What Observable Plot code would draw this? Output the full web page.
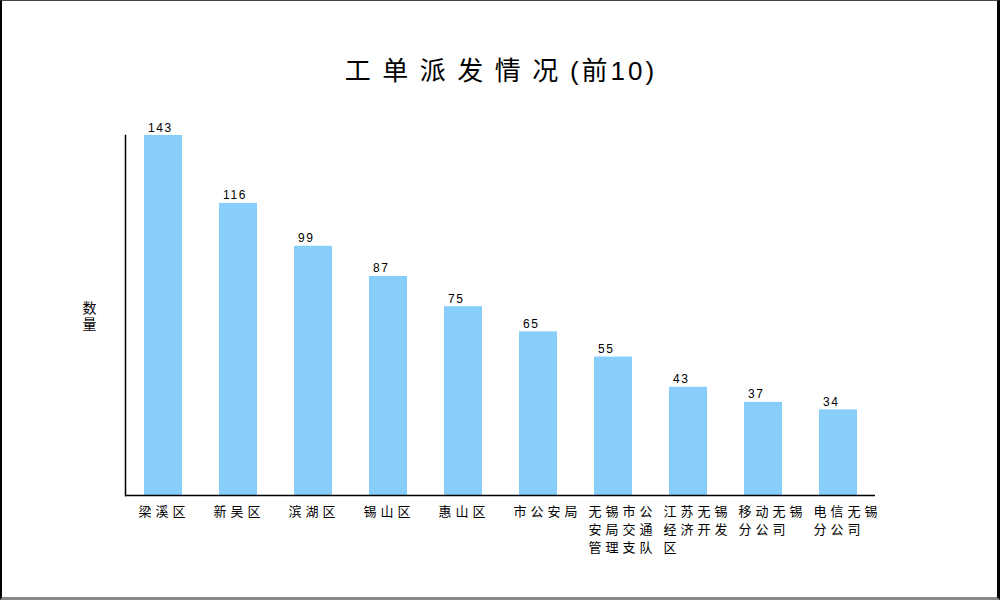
<!DOCTYPE html>
<html>
<head>
<meta charset="utf-8">
<script src="https://cdn.jsdelivr.net/npm/d3@7"></script>
<script src="https://cdn.jsdelivr.net/npm/@observablehq/plot@0.6"></script>
<style>
  html, body { margin: 0; padding: 0; background: #fff; }
  #wrap { position: relative; width: 1000px; height: 600px; overflow: hidden; background: #fff;
          font-family: "Liberation Sans", "Noto Sans CJK SC", sans-serif; }
  #border { position: absolute; left: 0; top: 0; width: 1000px; height: 600px; box-sizing: border-box;
            border-left: 2px solid #000; border-top: 1px solid #444; border-right: 3px solid #000;
            border-bottom: 3px solid #888; pointer-events: none; }
  #title { position: absolute; left: 1px; top: 55px; width: 1000px; text-align: center; color: #000;
           font-size: 26px; line-height: 32px; white-space: nowrap; }
  #title .a { letter-spacing: 11.5px; }
  #title .b { letter-spacing: 3px; }
  #chart { position: absolute; left: 0; top: 100px; }
</style>
</head>
<body>
<div id="wrap">
  <div id="title"><span class="a">工单派发情况</span><span class="b">(前10)</span></div>
  <div id="chart"></div>
  <div id="border"></div>
</div>
<script>
const categories = ["梁溪区", "新吴区", "滨湖区", "锡山区", "惠山区", "市公安局", "无锡市公安局交通管理支队", "江苏无锡经济开发区", "移动无锡分公司", "电信无锡分公司"];
const counts = [143, 116, 99, 87, 75, 65, 55, 43, 37, 34];
const yLabel = "数量";

const data = categories.map((name, i) => ({name, value: counts[i]}));
const wrap4 = s => (s.match(/.{1,4}/gu) || []).join("\n");

const svg = Plot.plot({
  width: 1000,
  height: 500,
  marginTop: 35,
  marginBottom: 105,
  marginLeft: 125,
  marginRight: 125,
  style: {fontFamily: '"Liberation Sans", "Noto Sans CJK SC", sans-serif', background: "transparent", color: "#000"},
  x: {domain: categories, paddingInner: 0.5, paddingOuter: 0.25, axis: null},
  y: {domain: [0, 143], axis: null},
  marks: [
    Plot.barY(data, {x: "name", y: "value", fill: "#87CEFA"}),
    Plot.ruleY([0], {stroke: "#000", strokeWidth: 1.5}),
    Plot.frame({anchor: "left", stroke: "#000", strokeWidth: 1.5}),
    Plot.text(data, {x: "name", y: "value", text: d => String(d.value), lineAnchor: "bottom", textAnchor: "start", dx: -15.5, dy: -4, fontSize: 12, fill: "#000"}),
    Plot.text(data, {x: "name", y: () => 0, text: d => wrap4(d.name), lineAnchor: "top", textAnchor: "start", dx: -25, dy: 8, fontSize: 13, lineHeight: 1.38, fill: "#000"}),
    Plot.text([yLabel], {frameAnchor: "left", text: d => d.split("").join("\n"), dx: -43, fontSize: 14, lineHeight: 1.15, fill: "#000"})
  ]
});
const groups = d3.select(svg).selectAll('g[aria-label="text"]').nodes();
if (groups[0]) d3.select(groups[0]).style("letter-spacing", "1.6px");
if (groups[1]) d3.select(groups[1]).style("letter-spacing", "4px");
document.getElementById("chart").appendChild(svg);
</script>
</body>
</html>
